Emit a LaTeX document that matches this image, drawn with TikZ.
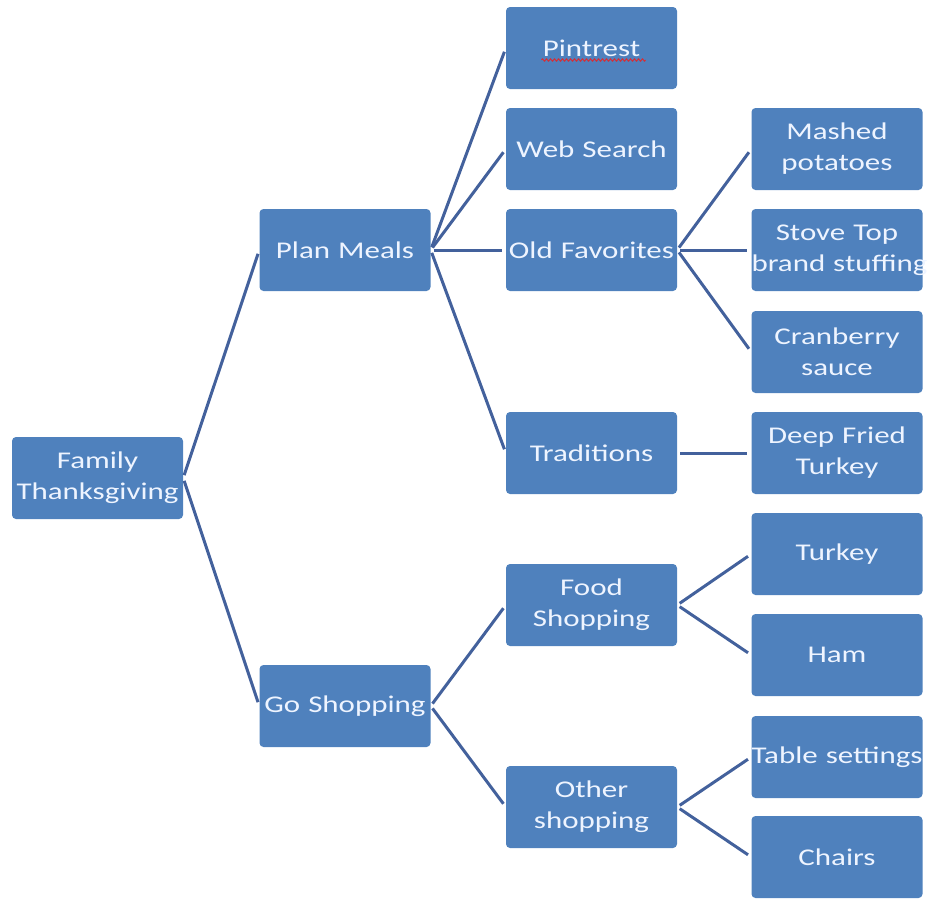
\documentclass[tikz,border=0pt]{standalone}
\usepackage{fontspec}
\usetikzlibrary{decorations.pathmorphing}
\setmainfont{Carlito}[FakeStretch=1.29]
\definecolor{boxblue}{HTML}{4F81BD}
\definecolor{linkblue}{HTML}{43619C}
\definecolor{boxtext}{HTML}{EEF4FF}
\definecolor{spellred}{HTML}{D0303A}
\tikzset{
  item/.style={rectangle, rounded corners=4pt, fill=boxblue, draw=none,
    text width=171pt, minimum height=82pt, inner sep=0pt,
    text=boxtext, align=center, font=\fontsize{24}{31}\selectfont},
  link/.style={draw=linkblue, line width=3pt, shorten <=3pt, shorten >=4pt}
}
\begin{document}
\begin{tikzpicture}[x=1pt, y=-1pt]
\useasboundingbox (0,0) rectangle (928,898);
% level 1
\node[item] (root) at (97.5,478) {Family\\Thanksgiving};
% level 2
\node[item] (plan) at (345,250) {Plan Meals};
\node[item] (shop) at (345,706) {Go Shopping};
% level 3
\node[item] (pin)  at (591.5,48)  {Pintrest};
\node[item] (web)  at (591.5,149) {Web Search};
\node[item] (old)  at (591.5,250) {Old Favorites};
\node[item] (trad) at (591.5,453) {Traditions};
\node[item] (food) at (591.5,605) {Food\\Shopping};
\node[item] (other) at (591.5,807) {Other\\shopping};
% level 4 (long lines are kept on one line and run past the box edge)
\node[item] (mash)  at (837,149) {Mashed\\potatoes};
\node[item] (stove) at (837,250) {Stove Top\\\mbox{brand stuffing}};
\node[item] (cran)  at (837,352) {Cranberry\\sauce};
\node[item] (deep)  at (837,453) {Deep Fried\\Turkey};
\node[item] (turk)  at (837,554) {Turkey};
\node[item] (ham)   at (837,655) {Ham};
\node[item] (table) at (837,757) {\mbox{Table settings}};
\node[item] (chair) at (837,857) {Chairs};
% spell-check squiggle under Pintrest
\draw[spellred, line width=1pt, decorate,
      decoration={zigzag, segment length=4pt, amplitude=1.2pt}]
  ([xshift=-50pt,yshift=-12pt]pin.center) -- ([xshift=54pt,yshift=-12pt]pin.center);
% connectors
\foreach \p/\c in {root/plan, root/shop,
                   plan/pin, plan/web, plan/old, plan/trad,
                   old/mash, old/stove, old/cran, trad/deep,
                   shop/food, shop/other,
                   food/turk, food/ham, other/table, other/chair}
  \draw[link] (\p.east) -- (\c.west);
\end{tikzpicture}
\end{document}
